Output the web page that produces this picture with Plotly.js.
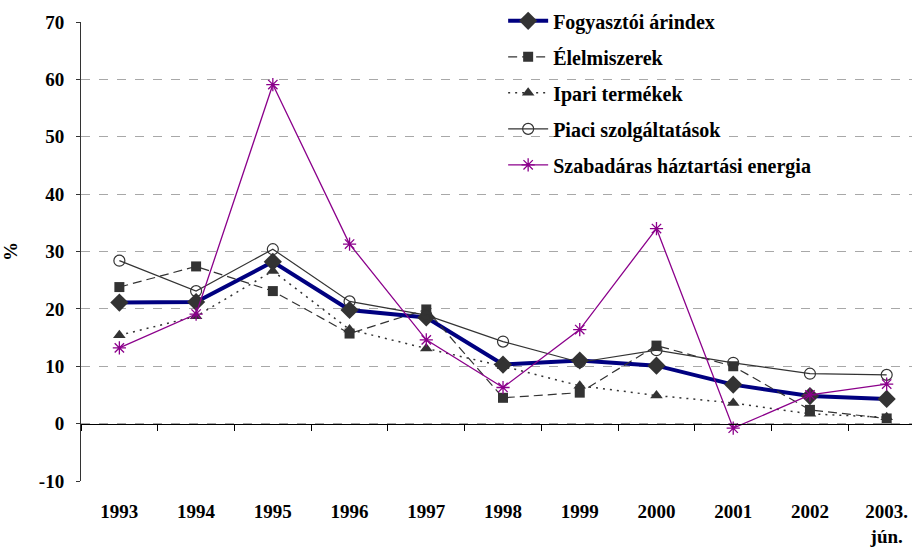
<!DOCTYPE html>
<html>
<head>
<meta charset="utf-8">
<script src="https://cdn.plot.ly/plotly-3.0.1.min.js"></script>
<style>html,body{margin:0;padding:0;background:#fff;}#chart{width:912px;height:547px;}</style>
</head>
<body>
<div id="chart"></div>
<script>
const years = ['1993','1994','1995','1996','1997','1998','1999','2000','2001','2002','2003.<br>jún.'];
const fogyasztoi = [21.1, 21.2, 28.2, 19.8, 18.5, 10.3, 11.0, 10.1, 6.8, 4.8, 4.3];
const elelmiszerek = [23.8, 27.4, 23.1, 15.7, 19.9, 4.5, 5.4, 13.6, 10.0, 2.4, 0.9];
const ipari = [15.4, 18.7, 26.6, 16.4, 13.1, 10.0, 6.6, 4.9, 3.6, 1.7, 1.1];
const piaci = [28.4, 23.1, 30.4, 21.3, 18.9, 14.3, 10.7, 12.8, 10.6, 8.7, 8.5];
const szabadaras = [13.2, 19.1, 59.1, 31.3, 14.6, 6.3, 16.4, 34.0, -0.8, 5.0, 6.9];
const names = ['Fogyasztói árindex', 'Élelmiszerek', 'Ipari termékek', 'Piaci szolgáltatások', 'Szabadáras háztartási energia'];
const yTickVals = [-10, 0, 10, 20, 30, 40, 50, 60, 70];
const yTickText = ['-10', '0', '10', '20', '30', '40', '50', '60', '70'];

const idx = years.map((_, i) => i);
const boundaries = years.map((_, i) => i - 0.5).concat([years.length - 0.5]);
const xr = [-0.5, 10.33];
const yr = [-10, 70];
const fam = '"Times New Roman", "Liberation Serif", Tinos, "DejaVu Serif", serif';
const font = {family: fam, size: 19, color: '#000', weight: 'bold'};
const b = s => '<b>' + s + '</b>';

const traces = [
  {x: idx, y: fogyasztoi, name: b(names[0]), legendgroup: 'a', mode: 'lines+markers',
   line: {color: '#000080', width: 4}, marker: {symbol: 'diamond', size: 14, color: '#333333'}},
  {x: idx, y: elelmiszerek, name: b(names[1]), legendgroup: 'b', mode: 'lines+markers',
   line: {color: '#333333', width: 1.2, dash: '9px,5px'}, marker: {symbol: 'square', size: 10, color: '#333333'}},
  {x: idx, y: ipari, name: b(names[2]), legendgroup: 'c', mode: 'lines+markers',
   line: {color: '#333333', width: 1.5, dash: '2px,5px'}, marker: {symbol: 'triangle-up', size: 11, color: '#333333'}},
  {x: idx, y: piaci, name: b(names[3]), legendgroup: 'd', mode: 'lines+markers',
   line: {color: '#333333', width: 1.2}, marker: {symbol: 'circle-open', size: 11, color: '#333333', line: {width: 1.2}}},
  {x: idx, y: szabadaras, name: b(names[4]), legendgroup: 'e', mode: 'lines+markers',
   line: {color: '#8B008B', width: 1.3}, marker: {symbol: 'asterisk-open', size: 11, color: '#8B008B', line: {width: 1.3, color: '#8B008B'}}}
];

// empty helper trace holding the axis along y = 0 and the short y ticks
traces.push({x: [xr[0]], y: [0], xaxis: 'x2', yaxis: 'y2', mode: 'none', showlegend: false, hoverinfo: 'skip'});

const layout = {
  width: 912, height: 547,
  margin: {l: 81, r: 0, t: 22, b: 66},
  paper_bgcolor: '#fff', plot_bgcolor: '#fff',
  font: font,
  showlegend: true,
  legend: {x: 0.508, y: 1.045, xanchor: 'left', yanchor: 'top', bgcolor: 'rgba(0,0,0,0)',
    font: {family: fam, size: 20, color: '#000', weight: 'bold'},
    traceorder: 'grouped', tracegroupgap: 7, itemwidth: 40},
  xaxis: {range: xr, tickvals: idx, ticktext: years.map(b), showgrid: false, zeroline: false,
    showline: false, ticks: 'outside', ticklen: 13, tickcolor: 'rgba(0,0,0,0)', tickfont: font, fixedrange: true},
  xaxis2: {overlaying: 'x', anchor: 'free', position: 0.125, range: xr, tickvals: boundaries,
    showticklabels: false, ticks: 'outside', ticklen: 6, tickcolor: '#000', tickwidth: 1,
    showline: true, linecolor: '#000', linewidth: 1, showgrid: false, zeroline: false},
  yaxis: {range: yr, tickvals: yTickVals, ticktext: yTickText.map(b), showgrid: true, gridcolor: '#a8a8a8', griddash: 'dash', gridwidth: 1,
    zeroline: false, showline: true, linecolor: '#333', linewidth: 1, ticks: 'outside', ticklen: 12, tickcolor: 'rgba(0,0,0,0)',
    tickfont: font, title: {text: b('%'), font: font, standoff: 16}},
  yaxis2: {overlaying: 'y', anchor: 'x', side: 'left', range: yr, tickvals: yTickVals, showticklabels: false,
    ticks: 'outside', ticklen: 4, tickcolor: '#333', tickwidth: 1, showgrid: false, zeroline: false, showline: false}
};

Plotly.newPlot('chart', traces, layout, {displayModeBar: false, staticPlot: true});
</script>
</body>
</html>
